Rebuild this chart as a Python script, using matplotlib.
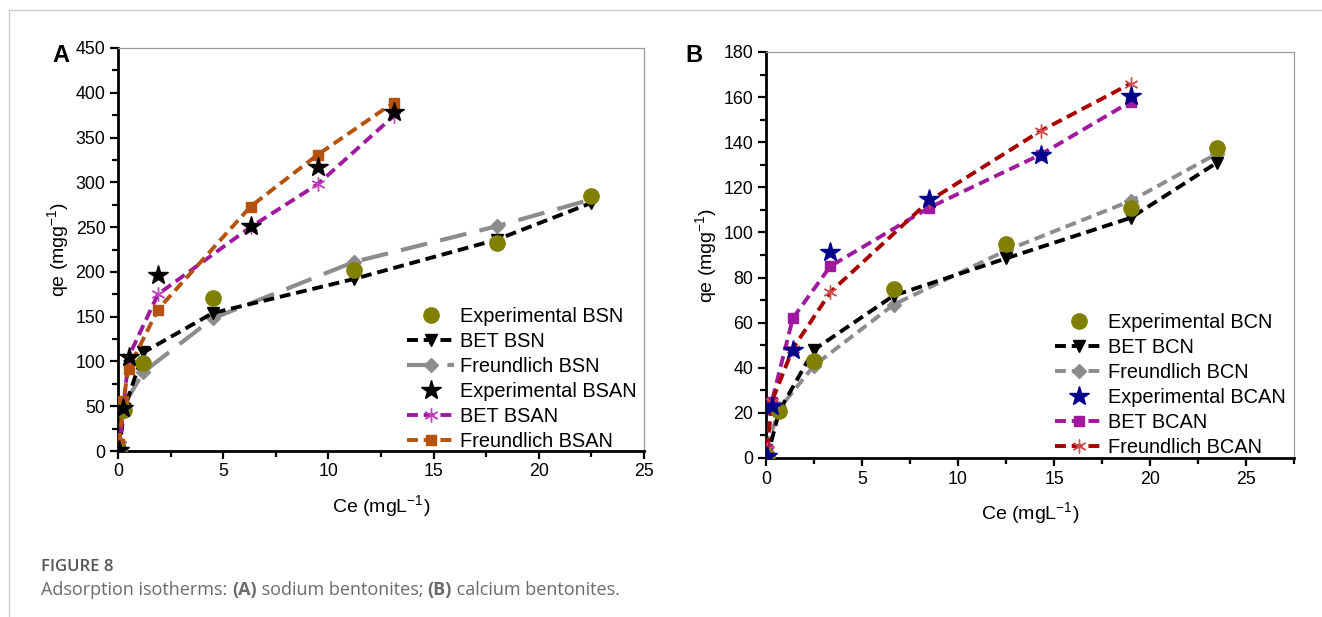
import matplotlib
matplotlib.use("Agg")
import matplotlib.pyplot as plt
from matplotlib.lines import Line2D
from matplotlib.ticker import MultipleLocator

plt.rcParams["font.family"] = ["Liberation Sans", "DejaVu Sans"]
plt.rcParams["mathtext.fontset"] = "custom"
plt.rcParams["mathtext.rm"] = "Liberation Sans"
plt.rcParams["mathtext.it"] = "Liberation Sans:italic"
plt.rcParams["mathtext.bf"] = "Liberation Sans:bold"

# ---------------------------------------------------------------------------
# Data
# ---------------------------------------------------------------------------

# Panel A: sodium bentonites
ce_bsn = [0.05, 0.3, 1.2, 4.5, 11.2, 18.0, 22.5]
exp_bsn = [0, 46, 98, 171, 202, 232, 285]
bet_bsn = [0, 47, 110, 154, 192, 236, 277]
fr_bsn = [10, 52, 88, 148, 211, 251, 281]

ce_bsan = [0.05, 0.25, 0.5, 1.9, 6.3, 9.5, 13.1]
exp_bsan = [1, 48, 105, 197, 251, 317, 379]
bet_bsan = [2, 45, 105, 175, 250, 298, 374]
fr_bsan = [8, 56, 92, 158, 273, 331, 389]

# Panel B: calcium bentonites
ce_bcn = [0.05, 0.7, 2.5, 6.65, 12.5, 19.0, 23.5]
exp_bcn = [1, 21, 43, 75, 95, 111, 137.5]
bet_bcn = [0, 21, 48, 72, 88.5, 106.5, 131]
fr_bcn = [5, 22, 41, 68, 92, 114, 135]

ce_bcan = [0.05, 0.3, 1.4, 3.35, 8.5, 14.3, 19.0]
exp_bcan = [1, 23, 48, 91.5, 115, 134.5, 160.5]
bet_bcan = [4, 25, 62, 85, 111, 134.5, 158]
fr_bcan = [4, 25, 48.5, 73.5, 114, 145, 166]

W, H = 1322, 617
fig = plt.figure(figsize=(W / 100, H / 100), dpi=100)


def px_axes(left, top, right, bottom):
    return fig.add_axes([left / W, 1 - bottom / H, (right - left) / W, (bottom - top) / H])


def style_axes(ax, xmax, ymax, ymajor, yminor):
    ax.set_xlim(0, xmax)
    ax.set_ylim(0, ymax)
    ax.xaxis.set_major_locator(MultipleLocator(5))
    ax.xaxis.set_minor_locator(MultipleLocator(2.5))
    ax.yaxis.set_major_locator(MultipleLocator(ymajor))
    ax.yaxis.set_minor_locator(MultipleLocator(yminor))
    for s in ("left", "bottom"):
        ax.spines[s].set_linewidth(2.0)
        ax.spines[s].set_color("black")
    for s in ("top", "right"):
        ax.spines[s].set_linewidth(0.9)
        ax.spines[s].set_color("#9a9a9a")
    ax.tick_params(which="major", direction="out", length=6, width=1.6,
                   labelsize=12.8, pad=3, top=False, right=False)
    ax.tick_params(which="minor", direction="out", length=4, width=1.6,
                   top=False, right=False)
    ax.set_xlabel("Ce (mgL$^{-1}$)", fontsize=14, labelpad=9)
    ax.set_ylabel("qe (mgg$^{-1}$)", fontsize=14, labelpad=3)


LW = 2.8
DASH = (2.8, 1.5)
LEG = dict(loc="upper left", frameon=False, fontsize=14.4, handlelength=2.35,
           handletextpad=0.3, labelspacing=0.3, borderpad=0, borderaxespad=0,
           numpoints=1)

# ---------------------------------------------------------------------------
# Panel A
# ---------------------------------------------------------------------------
axA = px_axes(118, 48, 644, 451)
axA.plot(ce_bsn, bet_bsn, color="black", lw=LW, dashes=DASH, marker="v", ms=9,
         label="BET BSN", zorder=3)
axA.plot(ce_bsn, fr_bsn, color="#8c8c8c", lw=3.0, dashes=(6.5, 3.2), marker="D", ms=7,
         label="Freundlich BSN", zorder=2)
axA.plot(ce_bsan, bet_bsan, color="#a0189e", lw=LW, dashes=DASH, marker=(6, 2, 0),
         ms=10, mew=1.0, mec="#c040c0", label="BET BSAN", zorder=3)
axA.plot(ce_bsan, fr_bsan, color="#b5520d", lw=LW, dashes=DASH, marker="s", ms=7.5,
         label="Freundlich BSAN", zorder=3)
axA.plot(ce_bsn, exp_bsn, ls="none", color="#808000", marker="o", ms=11,
         label="Experimental BSN", zorder=4)
axA.plot(ce_bsan, exp_bsan, ls="none", color="black", marker="*", ms=15,
         label="Experimental BSAN", zorder=4)
style_axes(axA, 25, 450, 50, 25)

hA, lA = axA.get_legend_handles_labels()
orderA = ["Experimental BSN", "BET BSN", "Freundlich BSN",
          "Experimental BSAN", "BET BSAN", "Freundlich BSAN"]
hA = [hA[lA.index(k)] for k in orderA]
fig.legend(hA, orderA, bbox_to_anchor=(407 / W, 1 - 307 / H), **LEG)

# ---------------------------------------------------------------------------
# Panel B
# ---------------------------------------------------------------------------
axB = px_axes(766, 52, 1294, 458)
axB.plot(ce_bcn, bet_bcn, color="black", lw=LW, dashes=DASH, marker="v", ms=9,
         label="BET BCN", zorder=3)
axB.plot(ce_bcn, fr_bcn, color="#8c8c8c", lw=LW, dashes=DASH, marker="D", ms=7,
         label="Freundlich BCN", zorder=2)
axB.plot(ce_bcan, bet_bcan, color="#a0189e", lw=LW, dashes=DASH, marker="s", ms=7.5,
         label="BET BCAN", zorder=3)
axB.plot(ce_bcan, fr_bcan, color="#a80000", lw=LW, dashes=DASH, marker=(6, 2, 0),
         ms=10, mew=1.0, mec="#d05050", label="Freundlich BCAN", zorder=3)
axB.plot(ce_bcn, exp_bcn, ls="none", color="#808000", marker="o", ms=11,
         label="Experimental BCN", zorder=4)
axB.plot(ce_bcan, exp_bcan, ls="none", color="#00008b", marker="*", ms=15,
         label="Experimental BCAN", zorder=4)
style_axes(axB, 27.5, 180, 20, 10)

hB, lB = axB.get_legend_handles_labels()
orderB = ["Experimental BCN", "BET BCN", "Freundlich BCN",
          "Experimental BCAN", "BET BCAN", "Freundlich BCAN"]
hB = [hB[lB.index(k)] for k in orderB]
fig.legend(hB, orderB, bbox_to_anchor=(1055 / W, 1 - 313 / H), **LEG)

# Panel letters
fig.text(52 / W, 1 - 55 / H, "A", fontsize=17, fontweight="bold", va="center")
fig.text(685 / W, 1 - 55 / H, "B", fontsize=17, fontweight="bold", va="center")

# Caption and page frame
CAP = ["Open Sans", "DejaVu Sans"]
fig.text(41 / W, 1 - 567 / H, "FIGURE 8", fontsize=12, color="#555555",
         va="center", family=CAP, fontweight="semibold")
caption = [("Adsorption isotherms: ", "normal"), ("(A)", "bold"),
           (" sodium bentonites; ", "normal"), ("(B)", "bold"),
           (" calcium bentonites.", "normal")]
fig.canvas.draw()
renderer = fig.canvas.get_renderer()
x = 41
for txt, wt in caption:
    t = fig.text(x / W, 1 - 590 / H, txt, fontsize=13, color="#6a6a6a",
                 va="center", family=CAP, fontweight=wt)
    x += t.get_window_extent(renderer).width
fig.add_artist(Line2D([9 / W, 9 / W], [0, 1 - 10 / H], color="#cccccc", lw=1,
                      transform=fig.transFigure))
fig.add_artist(Line2D([9 / W, 1], [1 - 10 / H, 1 - 10 / H], color="#cccccc", lw=1,
                      transform=fig.transFigure))

fig.savefig("out.png", dpi=100)
